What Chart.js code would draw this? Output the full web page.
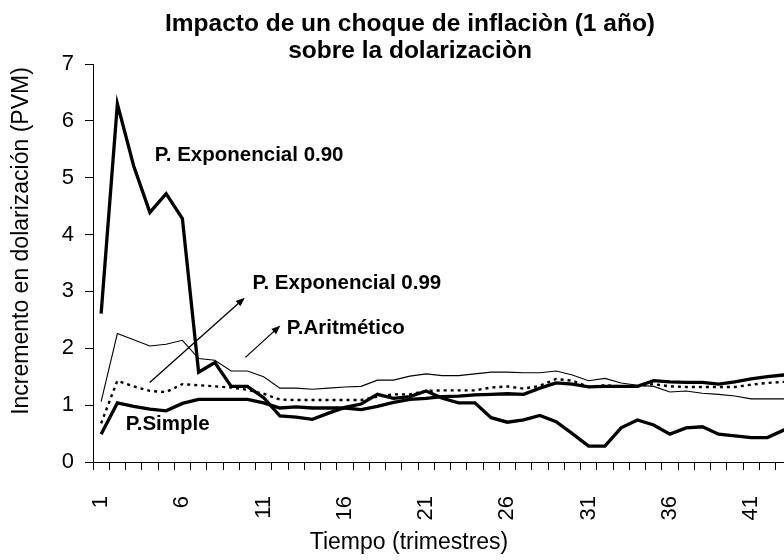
<!DOCTYPE html>
<html>
<head>
<meta charset="utf-8">
<title>Impacto de un choque de inflación</title>
<script src="https://cdn.jsdelivr.net/npm/chart.js@4.4.1/dist/chart.umd.min.js"></script>
<style>
  html, body { margin: 0; padding: 0; background: #fff; overflow: hidden; }
  canvas { display: block; }
</style>
</head>
<body>
<canvas id="chart" width="820" height="560"></canvas>
<script>
// ===========================
// Data
// ===========================

const periods = ['1','2','3','4','5','6','7','8','9','10','11','12','13','14','15','16','17','18','19','20','21','22',
  '23','24','25','26','27','28','29','30','31','32','33','34','35','36','37','38','39','40','41','42','43','44'];

// P. Exponencial 0.90 (thick, big spike)
const expo90 = [2.61, 6.30, 5.21, 4.39, 4.72, 4.28, 1.58, 1.75, 1.33, 1.33, 1.13, 0.81, 0.79, 0.75, 0.86, 0.96, 1.02, 1.19,
  1.12, 1.15, 1.25, 1.12, 1.04, 1.04, 0.78, 0.70, 0.74, 0.82, 0.71, 0.50, 0.28, 0.28, 0.60, 0.74, 0.65, 0.49, 0.60, 0.62,
  0.49, 0.46, 0.43, 0.43, 0.56, 0.64];

// P. Exponencial 0.99 (dotted)
const expo99 = [0.68, 1.43, 1.33, 1.25, 1.23, 1.37, 1.35, 1.33, 1.31, 1.27, 1.20, 1.10, 1.09, 1.09, 1.09, 1.09, 1.09, 1.15,
  1.19, 1.19, 1.25, 1.26, 1.26, 1.26, 1.31, 1.33, 1.29, 1.34, 1.46, 1.43, 1.32, 1.35, 1.33, 1.33, 1.37, 1.33, 1.32, 1.32,
  1.32, 1.32, 1.36, 1.39, 1.41, 1.42];

// P. Aritmético (thin)
const aritmetico = [1.06, 2.26, 2.15, 2.04, 2.07, 2.14, 1.82, 1.79, 1.60, 1.60, 1.50, 1.30, 1.30, 1.28, 1.30, 1.32, 1.33, 1.44,
  1.44, 1.51, 1.55, 1.52, 1.52, 1.55, 1.58, 1.58, 1.57, 1.57, 1.60, 1.53, 1.43, 1.47, 1.39, 1.35, 1.33, 1.23, 1.25, 1.21,
  1.19, 1.16, 1.11, 1.11, 1.11, 1.11];

// P. Simple (thick, starts low)
const simple = [0.49, 1.04, 0.98, 0.93, 0.90, 1.03, 1.10, 1.10, 1.10, 1.10, 1.04, 0.95, 0.97, 0.95, 0.95, 0.95, 0.92, 0.98,
  1.05, 1.10, 1.12, 1.15, 1.16, 1.18, 1.19, 1.20, 1.19, 1.30, 1.39, 1.37, 1.32, 1.33, 1.33, 1.33, 1.43, 1.41, 1.40, 1.40,
  1.37, 1.41, 1.46, 1.50, 1.53, 1.55];

const yTicks = [0, 1, 2, 3, 4, 5, 6, 7];

const titleLines = ['Impacto de un choque de inflaciòn (1 año)', 'sobre la dolarizaciòn'];
const yTitle = 'Incremento en dolarización (PVM)';
const xTitle = 'Tiempo (trimestres)';

// in-plot labels, anchored in data space (x = category index, y = value)
const notes = [
  { text: 'P. Exponencial 0.90', x: 3.30, y: 5.39 },
  { text: 'P. Exponencial 0.99', x: 9.31, y: 3.14 },
  { text: 'P.Aritmético', x: 11.42, y: 2.35 },
  { text: 'P.Simple', x: 1.51, y: 0.67 }
];
const arrows = [
  { from: [2.99, 1.40], to: [8.84, 2.89] },
  { from: [8.88, 1.84], to: [11.03, 2.40] }
];

// ===========================
// Chart
// ===========================

const FONT = '"Liberation Sans", Arial, sans-serif';

function drawArrow(ctx, x1, y1, x2, y2) {
  const ang = Math.atan2(y2 - y1, x2 - x1);
  const len = 9, half = 3.5;
  ctx.beginPath();
  ctx.moveTo(x1, y1);
  ctx.lineTo(x2 - Math.cos(ang) * len * 0.8, y2 - Math.sin(ang) * len * 0.8);
  ctx.stroke();
  ctx.beginPath();
  ctx.moveTo(x2, y2);
  ctx.lineTo(x2 - Math.cos(ang) * len - Math.sin(ang) * half, y2 - Math.sin(ang) * len + Math.cos(ang) * half);
  ctx.lineTo(x2 - Math.cos(ang) * len + Math.sin(ang) * half, y2 - Math.sin(ang) * len - Math.cos(ang) * half);
  ctx.closePath();
  ctx.fill();
}

// titles and in-plot notes (Excel-style placement, not centred on the plot area)
const textPlugin = {
  id: 'textos',
  afterDraw(chart) {
    const { ctx, scales: { x, y } } = chart;
    ctx.save();
    ctx.fillStyle = '#000';
    ctx.strokeStyle = '#000';

    // main title
    ctx.font = 'bold 24.5px ' + FONT;
    ctx.textAlign = 'center';
    ctx.textBaseline = 'alphabetic';
    ctx.fillText(titleLines[0], 410, 31);
    ctx.fillText(titleLines[1], 410, 58);

    // x axis title
    ctx.font = '23px ' + FONT;
    ctx.textBaseline = 'middle';
    ctx.fillText(xTitle, 409, 543);

    // y axis title
    ctx.save();
    ctx.translate(22, 241);
    ctx.rotate(-Math.PI / 2);
    ctx.fillText(yTitle, 0, 0);
    ctx.restore();

    // series labels
    ctx.font = 'bold 20.5px ' + FONT;
    ctx.textAlign = 'left';
    notes.forEach(n => ctx.fillText(n.text, x.getPixelForValue(n.x), y.getPixelForValue(n.y)));

    ctx.lineWidth = 1.3;
    arrows.forEach(a => drawArrow(ctx,
      x.getPixelForValue(a.from[0]), y.getPixelForValue(a.from[1]),
      x.getPixelForValue(a.to[0]), y.getPixelForValue(a.to[1])));
    ctx.restore();
  }
};

Chart.defaults.font.family = FONT;
Chart.defaults.color = '#000';

new Chart(document.getElementById('chart'), {
  type: 'line',
  data: {
    labels: periods,
    datasets: [
      { label: 'P. Exponencial 0.90', data: expo90, borderColor: '#000', borderWidth: 3.3 },
      { label: 'P. Aritmético', data: aritmetico, borderColor: '#000', borderWidth: 1.1 },
      { label: 'P. Exponencial 0.99', data: expo99, borderColor: '#000', borderWidth: 2.4, borderDash: [3, 4] },
      { label: 'P. Simple', data: simple, borderColor: '#000', borderWidth: 3.3 }
    ]
  },
  options: {
    responsive: false,
    animation: false,
    events: [],
    elements: {
      point: { radius: 0 },
      line: { tension: 0, fill: false, borderJoinStyle: 'miter', borderCapStyle: 'butt' }
    },
    layout: { padding: { top: 64, right: 12, left: 0, bottom: 0 } },
    plugins: {
      legend: { display: false },
      tooltip: { enabled: false }
    },
    scales: {
      x: {
        type: 'category',
        offset: true,
        grid: { offset: true, drawOnChartArea: false, drawTicks: true, tickLength: 8, color: '#000', lineWidth: 1 },
        border: { display: true, color: '#000', width: 1 },
        ticks: {
          autoSkip: false,
          minRotation: 90,
          maxRotation: 90,
          padding: 26,
          color: '#000',
          font: { size: 22 },
          callback: (v, i) => (i % 5 === 0 ? periods[i] : '')
        },
        afterFit: s => { s.height = 98; s.paddingLeft = 0; s.paddingRight = 0; }
      },
      y: {
        min: yTicks[0],
        max: yTicks[yTicks.length - 1],
        grid: { drawOnChartArea: false, drawTicks: true, tickLength: 8, color: '#000', lineWidth: 1 },
        border: { display: true, color: '#000', width: 1 },
        ticks: { stepSize: 1, padding: 11, color: '#000', font: { size: 22 } },
        afterFit: s => { s.width = 93; }
      }
    }
  },
  plugins: [textPlugin]
});
</script>
</body>
</html>
